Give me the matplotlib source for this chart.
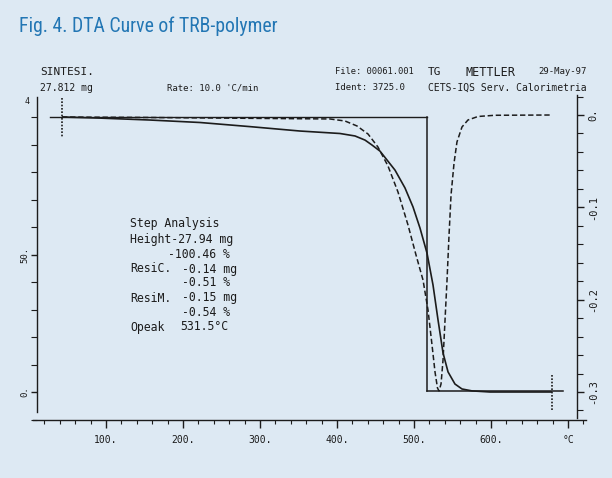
import numpy as np
from matplotlib import pyplot as plt
from matplotlib import font_manager
from matplotlib.ticker import MultipleLocator, FixedLocator, FixedFormatter

# TG curve: temperature (C) vs mass (%)
tg_T = [42.9, 92.2, 157.1, 222.1, 287.0, 351.9, 403.9, 423.4, 436.4, 445.5, 455.8,
        475.3, 488.3, 498.7, 507.8, 516.9, 524.7, 531.2, 537.7, 544.2, 553.2, 562.3,
        575.3, 598.7, 679.0]
tg_m = [100.0, 99.6, 98.9, 98.0, 96.5, 94.9, 94.0, 93.1, 91.6, 89.8, 87.6,
        80.7, 74.2, 67.3, 59.6, 50.5, 38.9, 26.2, 14.2, 7.3, 2.9, 1.1,
        0.4, 0.0, 0.0]

# DTG curve (dashed): temperature vs derivative (right axis)
dtg_T = [42.9, 157.1, 287.0, 390.9, 410.4, 426.0, 440.3, 453.2, 466.2, 479.2, 492.2,
         502.6, 511.7, 518.2, 523.4, 527.3, 530.5, 532.5, 535.1, 537.7, 540.3, 542.9,
         545.5, 548.1, 552.0, 555.8, 562.3, 570.1, 583.1, 605.2, 679.2]
dtg_v = [-0.0022, -0.0027, -0.0036, -0.0043, -0.0065, -0.0119, -0.0206, -0.0347, -0.0552,
         -0.0834, -0.1191, -0.1516, -0.1787, -0.2112, -0.2491, -0.2784, -0.2957, -0.2989,
         -0.2913, -0.2654, -0.2220, -0.1787, -0.1300, -0.0866, -0.0520, -0.0292, -0.0130,
         -0.0054, -0.0016, -0.0003, 0.0]

# step analysis construction
step_T = 517.0
step_top = 100.0
step_bot = 0.3
t_start, t_end = 43.0, 679.0

x_ticks = [100, 200, 300, 400, 500, 600, 700]
x_labels = ['100.', '200.', '300.', '400.', '500.', '600.', '°C']
r_ticks = [0.0, -0.1, -0.2, -0.3]
r_labels = ['0.', '-0.1', '-0.2', '-0.3']
l_ticks = [0, 50]
l_labels = ['0.', '50.']

step_lines = ['Step Analysis', 'Height-27.94 mg', '-100.46 %', 'ResiC.', '-0.14 mg',
              '-0.51 %', 'ResiM.', '-0.15 mg', '-0.54 %', 'Opeak', '531.5°C']

bg = '#dde9f3'
ink = '#1c1c1c'
mono = 'DejaVu Sans Mono'

# look for a narrow sans face for the title
def narrow_rank(f):
    n = f.name + ' ' + f.fname
    if 'Serif' in n or 'Mono' in n or f.style != 'normal':
        return None
    if f.weight not in (400, 'normal', 'regular', 'book'):
        return None
    if not ('Narrow' in n or 'Condensed' in n or f.stretch in ('condensed', 'semi-condensed')):
        return None
    for i, key in enumerate(['Liberation Sans Narrow', 'Roboto', 'Open Sans', 'Noto Sans', 'DejaVu Sans']):
        if key in n:
            return i
    return 9

best = None
for f in font_manager.fontManager.ttflist:
    r = narrow_rank(f)
    if r is not None and (best is None or r < best[0]):
        best = (r, f)
if best is not None:
    title_font = font_manager.FontProperties(fname=best[1].fname, size=14.2)
else:
    title_font = font_manager.FontProperties(family='Roboto', size=13)

W, H = 612, 478
fig = plt.figure(figsize=(W/100, H/100), dpi=100, facecolor=bg)

def fx(px):
    return px / W

def fy(py):
    return 1 - py / H

ax = fig.add_axes([fx(33), fy(420), (586-33)/W, (420-95)/H])
ax.set_facecolor('none')
ax.set_xlim((33-29)/0.77, (586-29)/0.77)
ax.set_ylim((392-420)/2.75, (392-95)/2.75)

ax2 = ax.twinx()
ax2.set_ylim((115-420)/923.3, (115-95)/923.3)

for s in ['top', 'right']:
    ax.spines[s].set_visible(False)
for s in ['top', 'left', 'bottom']:
    ax2.spines[s].set_visible(False)

ax.spines['left'].set_position(('data', (36.5-29)/0.77))
ax.spines['left'].set_bounds((392-412)/2.75, (392-97)/2.75)
ax2.spines['right'].set_position(('data', (577-29)/0.77))
ax2.spines['right'].set_bounds((115-418)/923.3, (115-95)/923.3)
for sp in [ax.spines['left'], ax.spines['bottom'], ax2.spines['right']]:
    sp.set_color(ink)
    sp.set_linewidth(1.0)

# bottom axis
ax.xaxis.set_major_locator(FixedLocator(x_ticks))
ax.xaxis.set_major_formatter(FixedFormatter(x_labels))
ax.xaxis.set_minor_locator(MultipleLocator(20))
ax.tick_params(axis='x', which='major', direction='out', length=6, width=1, color=ink,
               pad=5, labelsize=7, labelcolor=ink, labelfontfamily=mono)
ax.tick_params(axis='x', which='minor', direction='out', length=3, width=0.8, color=ink)

# left axis
ax.yaxis.set_major_locator(FixedLocator(l_ticks))
ax.yaxis.set_major_formatter(FixedFormatter(l_labels))
ax.yaxis.set_minor_locator(MultipleLocator(10))
ax.tick_params(axis='y', which='major', direction='out', length=4, width=1, color=ink,
               pad=1, labelsize=6.5, labelcolor=ink, labelfontfamily=mono, labelrotation=90)
ax.tick_params(axis='y', which='minor', direction='out', length=4, width=0.8, color=ink)
for lab in ax.get_yticklabels():
    lab.set_va('center')

# right axis
ax2.yaxis.set_major_locator(FixedLocator(r_ticks))
ax2.yaxis.set_major_formatter(FixedFormatter(r_labels))
ax2.yaxis.set_minor_locator(MultipleLocator(0.02))
ax2.tick_params(axis='y', which='major', direction='out', length=5, width=1, color=ink,
                pad=3, labelsize=7.5, labelcolor=ink, labelfontfamily=mono, labelrotation=90)
ax2.tick_params(axis='y', which='minor', direction='out', length=4, width=0.8, color=ink)
for lab in ax2.get_yticklabels():
    lab.set_va('center')

# curves
ax.plot(tg_T, tg_m, color=ink, lw=1.2, solid_capstyle='butt')
ax2.plot(dtg_T, dtg_v, color=ink, lw=1.1, ls=(0, (3.5, 1.8)))

# step construction lines
ax.plot([27, step_T], [step_top, step_top], color=ink, lw=1.0)
ax.plot([step_T, step_T], [step_top, step_bot], color=ink, lw=1.1)
ax.plot([step_T, 693.5], [step_bot, step_bot], color=ink, lw=1.1)
ax.plot([t_start, t_start], [106.9, 92.7], color=ink, lw=1.2, ls=(0, (1, 1)))
ax.plot([t_end, t_end], [6.2, -6.5], color=ink, lw=1.2, ls=(0, (1, 1)))

# step analysis text
tx = [130, 130, 168, 130, 182, 182, 130, 182, 182, 130, 180]
ty = [224, 239, 254, 269, 269, 283, 298, 298, 313, 327, 327]
for s, x, y in zip(step_lines, tx, ty):
    fig.text(fx(x), fy(y), s, fontsize=8.3, family=mono, color=ink, va='center', ha='left')

# header
hdr = [('SINTESI.', 40, 72, 8), ('27.812 mg', 40, 88, 7), ("Rate: 10.0 'C/min", 167, 88, 6.5),
       ('File: 00061.001', 335, 72, 6.3), ('Ident: 3725.0', 335, 88, 6.5),
       ('TG', 428, 72, 8), ('METTLER', 465, 72, 8.5), ('29-May-97', 538, 72, 6.5),
       ('CETS-IQS Serv. Calorimetria', 428, 88, 7)]
for s, x, y, fs in hdr:
    fig.text(fx(x), fy(y), s, fontsize=fs, family=mono, color=ink, va='center', ha='left')

fig.text(fx(25), fy(101), '4', fontsize=6, family=mono, color=ink, va='center', ha='left')

fig.text(fx(19), fy(32), 'Fig. 4. DTA Curve of TRB-polymer', fontproperties=title_font,
         color='#2276b4', va='baseline', ha='left')

fig.savefig('out.png', dpi=100, facecolor=bg)
